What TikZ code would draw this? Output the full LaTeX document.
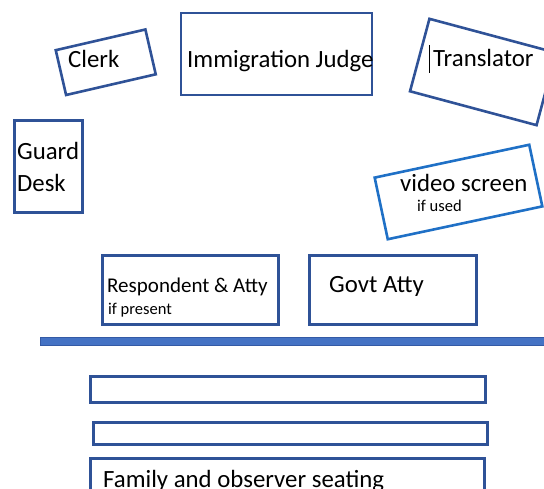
\documentclass[tikz,border=0pt]{standalone}
\usepackage{fontspec}
\setmainfont{Carlito}
\definecolor{boxblue}{RGB}{47,82,151}
\definecolor{vidblue}{RGB}{31,112,198}
\definecolor{barblue}{RGB}{68,114,196}
\definecolor{baredge}{RGB}{52,90,165}
\begin{document}
\begin{tikzpicture}[x=1pt,y=-1pt,
  box/.style={draw=boxblue, line width=2.6pt, inner sep=0pt},
  lbl/.style={inner sep=0pt, anchor=base west, font=\fontsize{24.8}{29}\selectfont},
  mid/.style={inner sep=0pt, anchor=base west, font=\fontsize{21}{25}\selectfont},
  small/.style={inner sep=0pt, anchor=base west, font=\fontsize{16.5}{20}\selectfont}]
\useasboundingbox (0,0) rectangle (544,489);
\clip (0,0) rectangle (544,489);
% boxes
\node[box, minimum width=92pt, minimum height=46pt, rotate=13] (clerkbox) at (105.75,62.25) {};
\node[box, minimum width=191pt, minimum height=82pt] (judgebox) at (276.5,54) {};
\node[box, minimum width=131pt, minimum height=75pt, rotate=-15] (transbox) at (483,72) {};
\node[box, minimum width=68pt, minimum height=92pt] (guardbox) at (48.5,166.5) {};
\node[box, draw=vidblue, minimum width=158pt, minimum height=63pt, rotate=12] (videobox) at (458.5,192) {};
\node[box, minimum width=176pt, minimum height=69pt] (respbox) at (190.5,290) {};
\node[box, minimum width=167pt, minimum height=69pt] (govtbox) at (393,290) {};
\node[box, minimum width=395pt, minimum height=26pt] (row1) at (288,389.5) {};
\node[box, minimum width=394pt, minimum height=22pt] (row2) at (290.5,433.5) {};
\node[box, minimum width=394pt, minimum height=43pt] (row3) at (287.5,480) {};
% bar
\filldraw[fill=barblue, draw=baredge, line width=0.8pt] (40.5,337.5) rectangle (550,345);
% texts
\node[lbl] (clerk) at (68,68) {Clerk};
\node[lbl] (judge) at (187,68) {Immigration Judge};
\node[lbl] (trans) at (433,67) {Translator};
\draw[line width=1pt] (429,45) -- (429,73);
\node[lbl] (guard) at (17,160) {Guard};
\node[lbl] (desk) at (17,192) {Desk};
\node[lbl] (video) at (400,192) {video screen};
\node[small] (ifused) at (417,212) {if used};
\node[mid] (resp) at (107,293) {Respondent \& Atty};
\node[small] (ifpres) at (108,315) {if present};
\node[lbl] (govt) at (329,293) {Govt Atty};
\node[lbl] (family) at (103,487) {Family and observer seating};
\end{tikzpicture}
\end{document}
